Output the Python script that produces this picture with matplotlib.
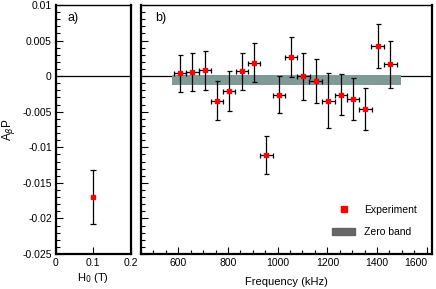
import numpy as np
import matplotlib
matplotlib.use('Agg')
import matplotlib.pyplot as plt
from matplotlib.ticker import MultipleLocator, FuncFormatter
from matplotlib.patches import Patch
from matplotlib.lines import Line2D

plt.rcParams['font.family'] = ['Liberation Sans', 'DejaVu Sans']
plt.rcParams['axes.unicode_minus'] = False

# panel a)
field = [0.1]
field_val = [-0.017]
field_err = [0.0038]

# panel b)
freq = [608, 657, 707, 756, 805, 857, 905, 955, 1005, 1054, 1104, 1153, 1204, 1254, 1303, 1353, 1402, 1454]
asym = [0.0004, 0.0006, 0.0008, -0.00345, -0.0021, 0.0007, 0.0019, -0.0111, -0.00265, 0.0027,
        0.0, -0.0007, -0.00345, -0.0026, -0.0032, -0.0046, 0.0042, 0.0017]
asym_err = [0.0026, 0.0027, 0.0028, 0.0027, 0.0028, 0.0026, 0.0027, 0.0027, 0.0026, 0.0028,
            0.0033, 0.0031, 0.0039, 0.0029, 0.003, 0.003, 0.0031, 0.0033]
freq_err = 25
band_x = [573, 1497]
band_y = [-0.00125, 0.0002]

fig = plt.figure(figsize=(4.36, 2.89), dpi=100)
ax1 = fig.add_axes([0.1284, 0.1211, 0.1713, 0.8616])
ax2 = fig.add_axes([0.3234, 0.1211, 0.6667, 0.8616])

fmt = FuncFormatter(lambda v, p: '0' if abs(v) < 1e-12 else '%g' % v)

for ax in (ax1, ax2):
    ax.set_ylim(-0.025, 0.01)
    ax.axhline(0, color='black', lw=0.9, zorder=1)
    ax.yaxis.set_major_locator(MultipleLocator(0.005))
    ax.yaxis.set_minor_locator(MultipleLocator(0.001))
    ax.tick_params(which='both', direction='in', top=False, right=False, labelsize=7.5, pad=3)
    ax.tick_params(which='major', length=5, width=0.8)
    ax.tick_params(which='minor', length=3, width=0.8)
    for s in ax.spines.values():
        s.set_linewidth(1.6)
    ax.spines['top'].set_linewidth(1.0)

# panel a
ax1.errorbar(field, field_val, yerr=field_err, fmt='s', color='red', ms=3.5,
             ecolor='black', elinewidth=0.9, capsize=2.5, capthick=0.9, zorder=3)
ax1.set_xlim(0, 0.2)
ax1.xaxis.set_major_locator(MultipleLocator(0.1))
ax1.xaxis.set_minor_locator(MultipleLocator(0.1))
ax1.xaxis.set_major_formatter(FuncFormatter(lambda v, p: '%g' % round(v, 3)))
ax1.yaxis.set_major_formatter(fmt)
ax1.set_xlabel('H$_0$ (T)', fontsize=8, labelpad=2)
ax1.set_ylabel('A$_\\beta$P', fontsize=8.5, labelpad=4)
ax1.text(0.16, 0.935, 'a)', transform=ax1.transAxes, fontsize=9)

# panel b
ax2.fill_between(band_x, band_y[0], band_y[1], color='#7f9a97', lw=0, zorder=2)
ax2.errorbar(freq, asym, yerr=asym_err, xerr=freq_err, fmt='s', color='red', ms=3.5,
             ecolor='black', elinewidth=0.9, capsize=1.8, capthick=0.9, zorder=3)
ax2.set_xlim(450, 1620)
ax2.xaxis.set_major_locator(MultipleLocator(200))
ax2.xaxis.set_minor_locator(MultipleLocator(50))
ax2.tick_params(axis='y', labelleft=False)
ax2.set_xlabel('Frequency (kHz)', fontsize=8, labelpad=6)
ax2.text(0.05, 0.935, 'b)', transform=ax2.transAxes, fontsize=9)

fig.canvas.draw()
last = [t for t in ax2.get_xticklabels() if t.get_text() == '1600']
for t in last:
    t.set_horizontalalignment('right')
    t.set_x(1600)
    import matplotlib.transforms as mtrans
    t.set_transform(t.get_transform() + mtrans.ScaledTranslation(0.01, 0, fig.dpi_scale_trans))

handles = [Line2D([], [], marker='s', color='red', ls='none', ms=4),
           Patch(color='#666666')]
ax2.legend(handles, ['Experiment', 'Zero band'], loc='lower right', bbox_to_anchor=(0.98, 0.03),
           frameon=False, fontsize=7.5, handlelength=2.2, labelspacing=1.2)

fig.savefig('out.png', dpi=100)
